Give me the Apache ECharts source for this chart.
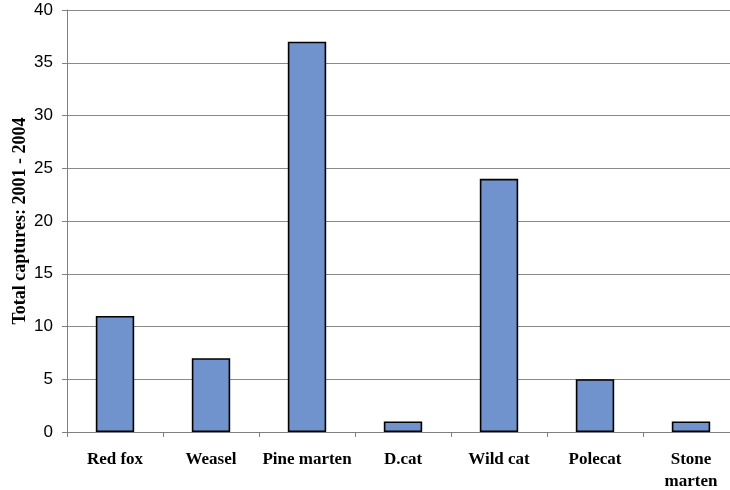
<!DOCTYPE html>
<html>
<head>
<meta charset="utf-8">
<script src="https://cdn.jsdelivr.net/npm/echarts@6/dist/echarts.min.js"></script>
<style>
  html, body { margin: 0; padding: 0; background: #fff; }
  #main { width: 730px; height: 490px; }
</style>
</head>
<body>
<div id="main"></div>
<script>
var species = ['Red fox', 'Weasel', 'Pine marten', 'D.cat', 'Wild cat', 'Polecat', 'Stone\nmarten'];
var captures = [11, 7, 37, 1, 24, 5, 1];

var myChart = echarts.init(document.getElementById('main'));
var option = {
    animation: false,
    grid: { left: 67, right: -9, top: 10, bottom: 58, outerBoundsMode: 'none', containLabel: false },
    xAxis: {
        type: 'category',
        data: species,
        axisLine: { lineStyle: { color: '#808080', width: 1 } },
        axisTick: { show: true, alignWithLabel: false, length: 5, lineStyle: { color: '#808080' } },
        axisLabel: {
            color: '#000', fontFamily: 'Liberation Serif', fontWeight: 'bold', fontSize: 17,
            margin: 17, lineHeight: 22, interval: 0
        }
    },
    yAxis: {
        type: 'value',
        min: 0, max: 40, interval: 5,
        name: 'Total captures: 2001 - 2004',
        nameLocation: 'middle',
        nameGap: 38,
        nameMoveOverlap: false,
        nameTextStyle: { color: '#000', fontFamily: 'Liberation Serif', fontWeight: 'bold', fontSize: 18 },
        axisLine: { show: true, lineStyle: { color: '#808080', width: 1 } },
        axisTick: { show: true, length: 5, lineStyle: { color: '#808080' } },
        axisLabel: { color: '#000', fontFamily: 'Liberation Sans', fontSize: 17, margin: 14 },
        splitLine: { lineStyle: { color: '#8a8a8a', width: 1 } }
    },
    series: [{
        type: 'bar',
        data: captures,
        barWidth: '40%',
        itemStyle: { color: '#7092CD', borderColor: '#000', borderWidth: 1.6 }
    }]
};
myChart.setOption(option);
</script>
</body>
</html>
